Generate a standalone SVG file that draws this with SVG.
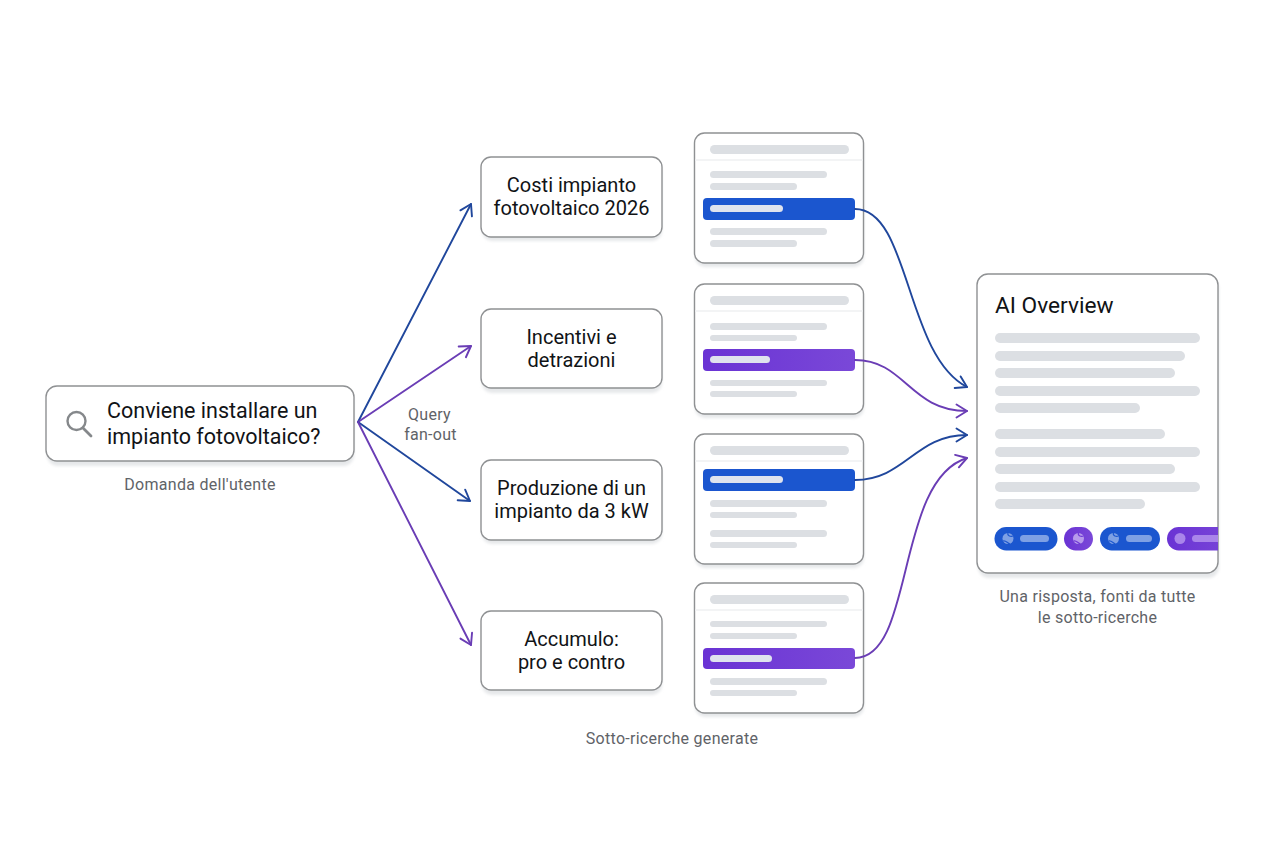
<svg xmlns="http://www.w3.org/2000/svg" width="1264" height="848" viewBox="0 0 1264 848">
<defs>
<style>
text{font-family:"Roboto","Inter","Liberation Sans",sans-serif}
.box{fill:#fff;stroke:#8f9193;stroke-width:1.4}
.shadow{fill:#e6e8ea;filter:url(#soft)}
.t{font-size:20px;fill:#111316;text-anchor:middle}
.cap{font-size:16px;letter-spacing:.28px;fill:#5f6368;text-anchor:middle}
.g{fill:#dcdfe3}
.div{stroke:#eff0f2;stroke-width:1.5;fill:none}
.blue{fill:#1b56cf}
.purple{fill:url(#pg)}
.in{fill:#dfe3ee}
.c{fill:none;stroke-width:1.9;stroke-linecap:round}
.cb{stroke:#20479c;marker-end:url(#ab)}
.cp{stroke:#6a3db5;marker-end:url(#ap)}
.gl{fill:none;stroke-width:1.2}
</style>
<filter id="soft" x="-5%" y="-5%" width="110%" height="115%"><feGaussianBlur stdDeviation="1.500"/></filter>
<linearGradient id="pg" x1="0" x2="1" y1="0" y2="0"><stop offset="0" stop-color="#6a33d4"/><stop offset="1" stop-color="#7a48d8"/></linearGradient>
<marker id="ab" viewBox="-12 -8 14 16" refX="0" refY="0" markerWidth="14" markerHeight="16" markerUnits="userSpaceOnUse" orient="auto"><path d="M-10.500 -6.500L0 0L-10.500 6.500" fill="none" stroke="#20479c" stroke-width="1.9" stroke-linecap="round" stroke-linejoin="round"/></marker>
<marker id="ap" viewBox="-12 -8 14 16" refX="0" refY="0" markerWidth="14" markerHeight="16" markerUnits="userSpaceOnUse" orient="auto"><path d="M-10.500 -6.500L0 0L-10.500 6.500" fill="none" stroke="#6a3db5" stroke-width="1.9" stroke-linecap="round" stroke-linejoin="round"/></marker>
<clipPath id="ov"><rect x="977" y="274" width="241" height="299" rx="11"/></clipPath>
</defs>
<rect width="1264" height="848" fill="#fff"/>

<g id="connectors">
<path class="c cb" d="M358 422L471 204"/>
<path class="c cp" d="M358 422L471 346"/>
<path class="c cb" d="M358 422L470 501"/>
<path class="c cp" d="M358 422L471 645"/>
</g>

<g id="query">
<rect class="shadow" x="47" y="391" width="307" height="75" rx="11"/>
<rect class="box" x="46" y="386" width="308" height="75" rx="11"/>
<circle cx="76.500" cy="421" r="9" fill="none" stroke="#85888b" stroke-width="2.400"/>
<path d="M83 428L91 436" stroke="#85888b" stroke-width="2.800" stroke-linecap="round"/>
<text x="107" y="418" style="font-size:21.500px;fill:#111316">Conviene installare un</text>
<text x="107" y="444" style="font-size:21.500px;fill:#111316">impianto fotovoltaico?</text>
</g>
<text class="cap" x="200" y="490">Domanda dell'utente</text>
<text class="cap" x="429.500" y="420">Query</text>
<text class="cap" x="430.500" y="439.500">fan-out</text>

<g id="q1">
<rect class="shadow" x="482" y="161" width="180" height="80" rx="10"/>
<rect class="box" x="481" y="157" width="181" height="80" rx="10"/>
<text class="t" x="571.500" y="192">Costi impianto</text>
<text class="t" x="571.500" y="215">fotovoltaico 2026</text>
</g>
<g id="q2">
<rect class="shadow" x="482" y="313" width="180" height="80" rx="10"/>
<rect class="box" x="481" y="309" width="181" height="79" rx="10"/>
<text class="t" x="571.500" y="344">Incentivi e</text>
<text class="t" x="571.500" y="367">detrazioni</text>
</g>
<g id="q3">
<rect class="shadow" x="482" y="464" width="180" height="80" rx="10"/>
<rect class="box" x="481" y="460" width="181" height="80" rx="10"/>
<text class="t" x="571.500" y="495">Produzione di un</text>
<text class="t" x="571.500" y="518">impianto da 3 kW</text>
</g>
<g id="q4">
<rect class="shadow" x="482" y="615" width="180" height="80" rx="10"/>
<rect class="box" x="481" y="611" width="181" height="79" rx="10"/>
<text class="t" x="571.500" y="646">Accumulo:</text>
<text class="t" x="571.500" y="669">pro e contro</text>
</g>

<g id="card1">
<rect class="shadow" x="695" y="137" width="169" height="130" rx="10"/>
<rect class="box" x="694.500" y="133" width="169" height="130" rx="10"/>
<rect class="g" x="710" y="145" width="139" height="9" rx="4.500"/>
<path class="div" d="M695 160H863"/>
<rect class="g" x="710" y="171" width="117" height="7" rx="3.500"/>
<rect class="g" x="710" y="183" width="87" height="7" rx="3.500"/>
<rect class="blue" x="703" y="198" width="152" height="22" rx="4"/>
<rect class="in" x="710" y="205" width="73" height="7" rx="3.500"/>
<rect class="g" x="710" y="228" width="117" height="7" rx="3.500"/>
<rect class="g" x="710" y="240" width="87" height="7" rx="3.500"/>
</g>
<g id="card2">
<rect class="shadow" x="695" y="288" width="169" height="130" rx="10"/>
<rect class="box" x="694.500" y="284" width="169" height="130" rx="10"/>
<rect class="g" x="710" y="296" width="139" height="9" rx="4.500"/>
<path class="div" d="M695 311H863"/>
<rect class="g" x="710" y="323" width="117" height="7" rx="3.500"/>
<rect class="g" x="710" y="335" width="87" height="6" rx="3"/>
<rect class="purple" x="703" y="349" width="152" height="22" rx="4"/>
<rect class="in" x="710" y="356" width="60" height="7" rx="3.500"/>
<rect class="g" x="710" y="380" width="117" height="6" rx="3"/>
<rect class="g" x="710" y="391" width="87" height="6" rx="3"/>
</g>
<g id="card3">
<rect class="shadow" x="695" y="438" width="169" height="130" rx="10"/>
<rect class="box" x="694.500" y="434" width="169" height="130" rx="10"/>
<rect class="g" x="710" y="446" width="139" height="9" rx="4.500"/>
<path class="div" d="M695 461H863"/>
<rect class="blue" x="703" y="469" width="152" height="22" rx="4"/>
<rect class="in" x="710" y="476" width="73" height="7" rx="3.500"/>
<rect class="g" x="710" y="500" width="117" height="7" rx="3.500"/>
<rect class="g" x="710" y="512" width="87" height="6" rx="3"/>
<rect class="g" x="710" y="530" width="117" height="7" rx="3.500"/>
<rect class="g" x="710" y="542" width="87" height="6" rx="3"/>
</g>
<g id="card4">
<rect class="shadow" x="695" y="587" width="169" height="130" rx="10"/>
<rect class="box" x="694.500" y="583" width="169" height="130" rx="10"/>
<rect class="g" x="710" y="595" width="139" height="9" rx="4.500"/>
<path class="div" d="M695 610H863"/>
<rect class="g" x="710" y="621" width="117" height="6" rx="3"/>
<rect class="g" x="710" y="633" width="87" height="6" rx="3"/>
<rect class="purple" x="703" y="648" width="152" height="21" rx="4"/>
<rect class="in" x="710" y="655" width="62" height="7" rx="3.500"/>
<rect class="g" x="710" y="678" width="117" height="7" rx="3.500"/>
<rect class="g" x="710" y="690" width="87" height="6" rx="3"/>
</g>

<g id="overview">
<rect class="shadow" x="978" y="278" width="241" height="300" rx="11"/>
<rect class="box" x="977" y="274" width="241" height="299" rx="11"/>
<text x="995" y="312.500" style="font-size:22.700px;fill:#111316">AI Overview</text>
<rect class="g" x="995" y="333" width="205" height="10" rx="5"/>
<rect class="g" x="995" y="351" width="190" height="10" rx="5"/>
<rect class="g" x="995" y="368" width="180" height="10" rx="5"/>
<rect class="g" x="995" y="386" width="205" height="10" rx="5"/>
<rect class="g" x="995" y="403" width="145" height="10" rx="5"/>
<rect class="g" x="995" y="429" width="170" height="10" rx="5"/>
<rect class="g" x="995" y="447" width="205" height="10" rx="5"/>
<rect class="g" x="995" y="464" width="180" height="10" rx="5"/>
<rect class="g" x="995" y="482" width="205" height="10" rx="5"/>
<rect class="g" x="995" y="499" width="150" height="10" rx="5"/>
<g clip-path="url(#ov)">
<rect class="blue" x="994.500" y="527" width="63" height="23.500" rx="11.700"/>
<circle cx="1008" cy="538.500" r="5.500" fill="#7ea0e4"/>
<path class="gl" stroke="#1b56cf" d="M1003 541C1006 540 1007 543 1010 544M1008 533C1007 536 1011 537 1013 536"/>
<rect x="1020" y="535" width="29" height="7" rx="3.500" fill="#7ea0e4"/>
<rect class="purple" x="1064" y="527" width="29" height="23.500" rx="11.700"/>
<circle cx="1078.500" cy="538.500" r="5.500" fill="#b79aeb"/>
<path class="gl" stroke="#6f37d6" d="M1073.500 541C1076.500 540 1077.500 543 1080.500 544M1078.500 533C1077.500 536 1081.500 537 1083.500 536"/>
<rect class="blue" x="1100" y="527" width="60" height="23.500" rx="11.700"/>
<circle cx="1113.500" cy="538.500" r="5.500" fill="#7ea0e4"/>
<path class="gl" stroke="#1b56cf" d="M1108.500 541C1111.500 540 1112.500 543 1115.500 544M1113.500 533C1112.500 536 1116.500 537 1118.500 536"/>
<rect x="1126" y="535" width="26" height="7" rx="3.500" fill="#7ea0e4"/>
<rect class="purple" x="1167" y="527" width="70" height="23.500" rx="11.700"/>
<circle cx="1180" cy="538.500" r="5.500" fill="#a985ea"/>
<rect x="1192" y="535" width="40" height="7" rx="3.500" fill="#a985ea"/>
</g>
</g>

<g id="connectors2">
<path class="c cb" d="M855 209C910 209 905 355 967 387"/>
<path class="c cp" d="M855 360C905 360 910 411 967 411"/>
<path class="c cb" d="M855 480C905 480 915 435 967 435"/>
<path class="c cp" d="M855 658C915 658 895 480 967 458"/>
</g>

<text class="cap" x="1097.500" y="602">Una risposta, fonti da tutte</text>
<text class="cap" x="1097.500" y="622.500">le sotto-ricerche</text>
<text class="cap" x="672" y="744">Sotto-ricerche generate</text>
</svg>
